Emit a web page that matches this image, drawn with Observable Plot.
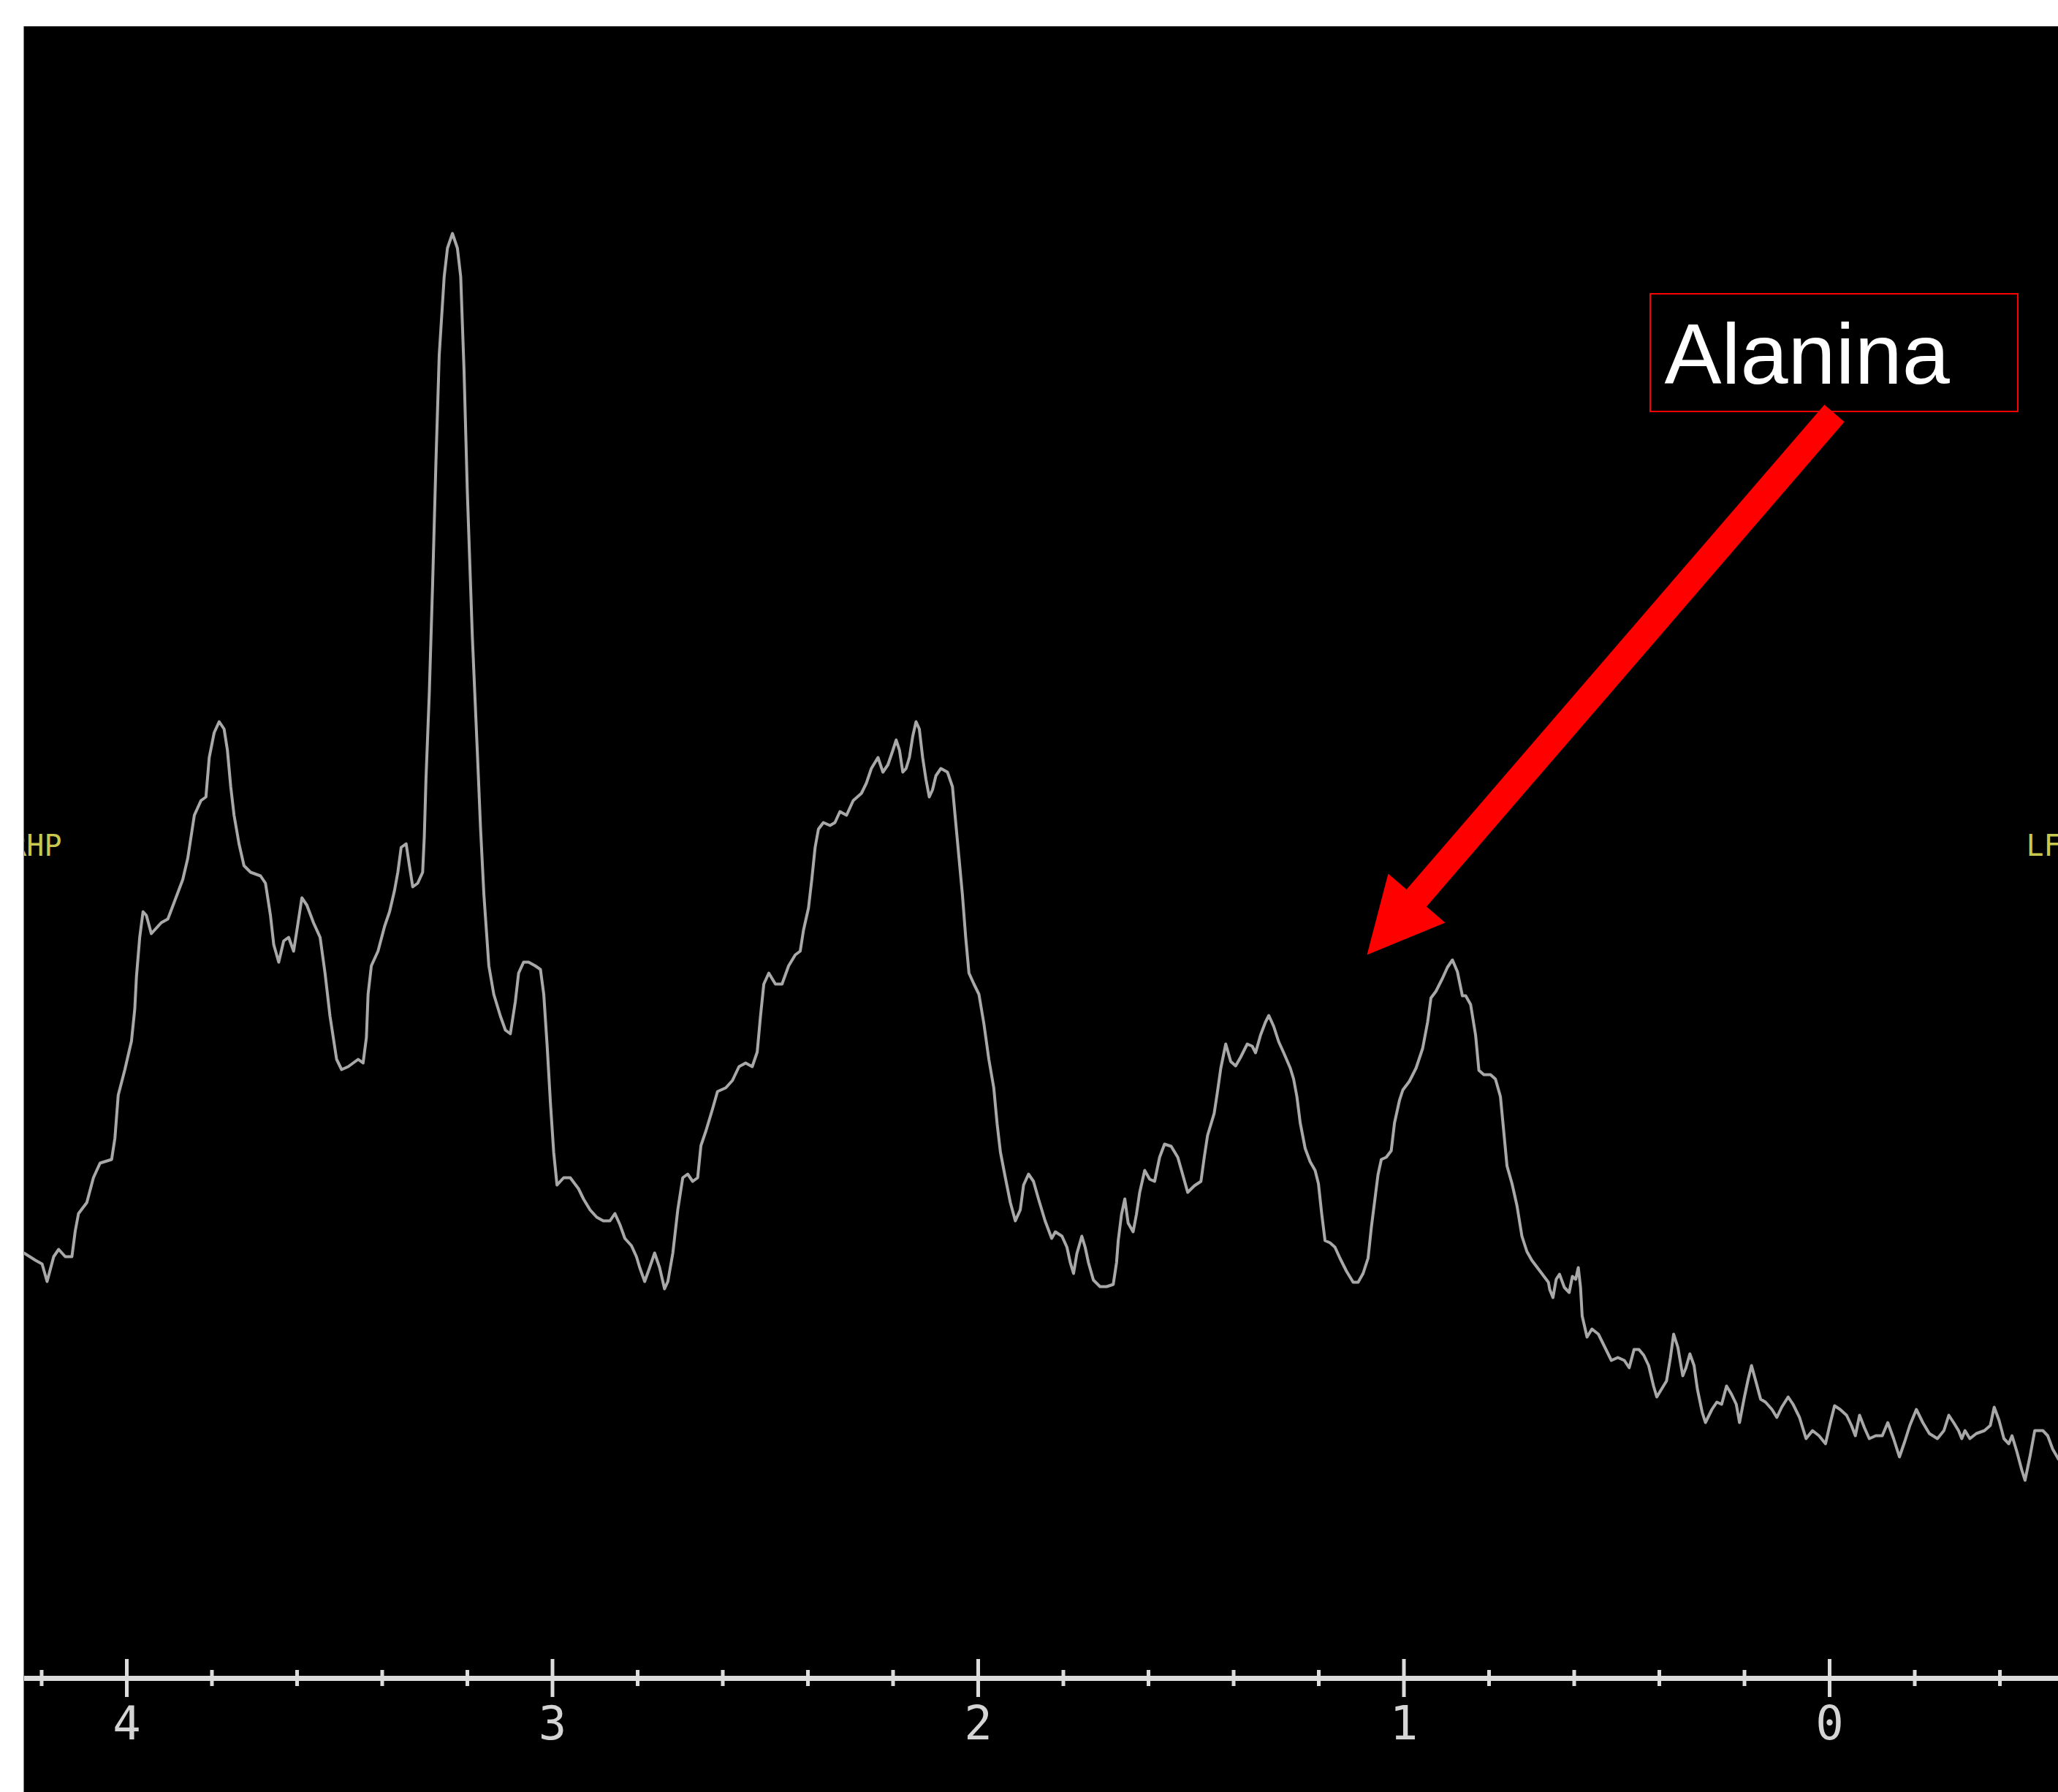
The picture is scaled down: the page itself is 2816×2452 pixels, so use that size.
<!DOCTYPE html>
<html>
<head>
<meta charset="utf-8">
<script src="https://cdn.jsdelivr.net/npm/d3@7"></script>
<script src="https://cdn.jsdelivr.net/npm/@observablehq/plot@0.6"></script>
<style>
  html, body { margin: 0; padding: 0; background: #ffffff; }
  #chart { position: absolute; left: 32px; top: 36px; border-left: 1px solid #808080; line-height: 0; }
  #chart svg { display: block; }
</style>
</head>
<body>
<div id="chart"></div>
<script>
// Chemical shift (ppm) and signal intensity (a.u.)
const spectrumRegion1 = [
  [4.2416,582],[4.2144,572],[4.1989,567],[4.1872,543],[4.1717,577],[4.1600,587],[4.1445,577],[4.1289,577],
  [4.1211,612],[4.1134,636],[4.0939,651],[4.0784,685],[4.0628,705],[4.0356,710],[4.0279,739],[4.0201,798],
  [4.0045,833],[3.9890,872],[3.9812,916],[3.9773,960],[3.9696,1014],[3.9618,1049],[3.9540,1044],[3.9424,1019],
  [3.9190,1034],[3.9035,1039],[3.8879,1063],[3.8685,1093],[3.8568,1122],[3.8413,1181],[3.8258,1201],[3.8141,1206],
  [3.8063,1260],[3.7947,1294],[3.7830,1309],[3.7714,1299],[3.7636,1270],[3.7558,1220],[3.7480,1181],[3.7364,1142],
  [3.7247,1112],[3.7092,1103],[3.6858,1098],[3.6742,1088],[3.6625,1044],[3.6548,1004],[3.6431,980],[3.6314,1009],
  [3.6198,1014],[3.6081,995],[3.6003,1024],[3.5887,1068],[3.5770,1058],[3.5615,1034],[3.5459,1014],[3.5343,965],
  [3.5226,906],[3.5071,847],[3.4954,833],[3.4799,837],[3.4682,842],[3.4565,847],[3.4449,842],[3.4371,877],
  [3.4332,936],[3.4255,975],[3.4099,995],[3.3944,1029],[3.3827,1049],[3.3711,1078],[3.3633,1103],[3.3555,1137],
  [3.3438,1142],[3.3361,1112],[3.3283,1083],[3.3166,1088],[3.3050,1103],[3.3011,1152],[3.2972,1230],[3.2894,1348],
  [3.2817,1495],[3.2739,1662],[3.2661,1810],[3.2544,1918],[3.2467,1957],[3.2350,1977],[3.2234,1957],[3.2156,1918],
  [3.2078,1790],[3.2000,1623],[3.1884,1427],[3.1767,1270],[3.1689,1162],[3.1612,1073],[3.1495,975],[3.1379,936],
  [3.1223,906],[3.1106,887],[3.0990,882],[3.0873,926],[3.0796,965],[3.0679,980],[3.0562,980],[3.0407,975]
];
const spectrumRegion2 = [
  [3.0283,970],[3.0205,936],[3.0127,867],[3.0049,788],[2.9972,720],[2.9894,675],[2.9738,685],[2.9583,685],
  [2.9389,670],[2.9272,656],[2.9117,641],[2.8961,631],[2.8806,626],[2.8650,626],[2.8534,636],[2.8417,621],
  [2.8300,602],[2.8145,592],[2.8028,577],[2.7951,562],[2.7834,543],[2.7718,562],[2.7601,582],[2.7484,562],
  [2.7368,533],[2.7290,543],[2.7173,582],[2.7057,641],[2.6940,685],[2.6824,690],[2.6707,680],[2.6590,685],
  [2.6513,729],[2.6396,749],[2.6241,779],[2.6124,803],[2.5930,808],[2.5774,818],[2.5619,837],[2.5463,842],
  [2.5308,837],[2.5191,857],[2.5114,906],[2.5036,950],[2.4919,965],[2.4764,950],[2.4608,950],[2.4453,975],
  [2.4297,990],[2.4181,995],[2.4103,1024],[2.3987,1054],[2.3909,1093],[2.3831,1137],[2.3753,1162],[2.3637,1171],
  [2.3481,1167],[2.3365,1171],[2.3248,1186],[2.3093,1181],[2.2937,1201],[2.2743,1211],[2.2626,1225],[2.2510,1245],
  [2.2354,1260],[2.2238,1240],[2.2121,1250],[2.2004,1270],[2.1927,1284],[2.1849,1270],[2.1771,1240],[2.1694,1245],
  [2.1616,1260],[2.1538,1289],[2.1460,1309],[2.1383,1299],[2.1305,1260],[2.1227,1230],[2.1150,1206],[2.1072,1216],
  [2.0994,1235],[2.0877,1245],[2.0722,1240],[2.0605,1220],[2.0528,1171],[2.0450,1122],[2.0372,1073],[2.0294,1014],
  [2.0217,965],[2.0100,950],[1.9983,936],[1.9867,896],[1.9750,847],[1.9634,808],[1.9556,759],[1.9478,720],
  [1.9362,685],[1.9245,651],[1.9128,626],[1.9012,641],[1.8934,675],[1.8818,690],[1.8701,680],[1.8584,656],
  [1.8429,626],[1.8274,602]
];
const spectrumRegion3 = [
  [1.8188,611],[1.8032,605],[1.7916,590],[1.7838,569],[1.7760,554],[1.7683,581],[1.7566,605],[1.7488,590],
  [1.7411,569],[1.7294,545],[1.7138,536],[1.6983,536],[1.6828,539],[1.6750,569],[1.6711,599],[1.6633,635],
  [1.6556,656],[1.6478,623],[1.6361,611],[1.6283,635],[1.6206,665],[1.6089,695],[1.5972,683],[1.5856,680],
  [1.5739,713],[1.5623,731],[1.5467,728],[1.5312,713],[1.5195,689],[1.5079,665],[1.4923,674],[1.4768,680],
  [1.4690,713],[1.4612,743],[1.4457,773],[1.4379,803],[1.4301,835],[1.4185,868],[1.4068,844],[1.3952,838],
  [1.3835,850],[1.3680,868],[1.3563,865],[1.3485,856],[1.3369,880],[1.3252,898],[1.3174,907],[1.3058,892],
  [1.2941,871],[1.2824,856],[1.2669,835],[1.2591,820],[1.2514,796],[1.2436,760],[1.2319,725],[1.2203,707],
  [1.2086,695],[1.2008,677],[1.1930,635],[1.1853,599],[1.1736,596],[1.1620,590],[1.1503,575],[1.1348,557],
  [1.1192,542],[1.1076,542],[1.0959,554],[1.0842,575],[1.0765,617],[1.0687,653],[1.0609,689],[1.0531,710],
  [1.0415,713],[1.0298,722],[1.0221,760],[1.0104,791],[1.0026,805],[0.9871,817],[0.9715,835],[0.9560,862],
  [0.9443,898],[0.9365,931],[0.9249,940],[0.9093,958],[0.8977,973],[0.8860,983],[0.8744,967],[0.8627,934],
  [0.8549,934],[0.8433,922],[0.8316,880],[0.8239,832],[0.8122,826],[0.7966,826],[0.7850,820],[0.7733,796],
  [0.7656,749],[0.7578,701],[0.7461,677],[0.7345,647],[0.7228,605],[0.7111,584],[0.6995,572],[0.6839,560],
  [0.6723,551],[0.6606,542]
];
const spectrumRegion4 = [
  [0.6575,532],[0.6499,521],[0.6423,546],[0.6346,553],[0.6232,535],[0.6118,528],[0.6042,550],[0.5965,546],
  [0.5904,562],[0.5851,535],[0.5813,496],[0.5699,467],[0.5584,478],[0.5432,471],[0.5279,453],[0.5127,435],
  [0.4975,439],[0.4822,435],[0.4708,425],[0.4594,450],[0.4479,450],[0.4365,442],[0.4251,428],[0.4136,400],
  [0.4060,385],[0.3946,396],[0.3831,407],[0.3740,439],[0.3664,471],[0.3565,453],[0.3450,414],[0.3374,425],
  [0.3283,444],[0.3184,428],[0.3107,396],[0.2993,364],[0.2917,350],[0.2765,368],[0.2650,378],[0.2536,375],
  [0.2422,400],[0.2307,389],[0.2193,375],[0.2117,350],[0.2002,385],[0.1911,410],[0.1835,428],[0.1736,407],
  [0.1621,382],[0.1507,378],[0.1355,368],[0.1240,357],[0.1126,371],[0.0974,385],[0.0859,375],[0.0707,357],
  [0.0554,328],[0.0402,339],[0.0250,332],[0.0097,321],[-0.0017,350],[-0.0116,373],[-0.0246,368],[-0.0398,360],
  [-0.0513,346],[-0.0604,332],[-0.0703,360],[-0.0817,343],[-0.0932,328],[-0.1084,332],[-0.1237,332],[-0.1366,350],
  [-0.1503,328],[-0.1640,303],[-0.1770,325],[-0.1884,346],[-0.2037,368],[-0.2189,350],[-0.2342,335],[-0.2532,328],
  [-0.2685,339],[-0.2799,360],[-0.2913,350],[-0.3028,339],[-0.3104,328],[-0.3180,339],[-0.3294,328],[-0.3447,335],
  [-0.3637,339],[-0.3774,346],[-0.3866,371],[-0.3980,353],[-0.4094,328],[-0.4209,321],[-0.4285,332],[-0.4399,310],
  [-0.4514,285],[-0.4590,271],[-0.4704,303],[-0.4818,339],[-0.5009,339],[-0.5123,332],[-0.5237,314],[-0.5375,300]
];
const spectrum = [...spectrumRegion1, ...spectrumRegion2, ...spectrumRegion3, ...spectrumRegion4];

// Axis ticks (ppm)
const majorTicks = [4, 3, 2, 1, 0];
const minorTicks = [4.2, 3.8, 3.6, 3.4, 3.2, 2.8, 2.6, 2.4, 2.2, 1.8, 1.6, 1.4, 1.2, 0.8, 0.6, 0.4, 0.2, -0.2, -0.4];

// Annotation (data coordinates: ppm, intensity)
const annotationLabel = "Alanina";
const annotationText = [{ppm: 0.3880, intensity: 1809}];
const annotationBox = [{ppmFrom: 0.4206, ppmTo: -0.4429, intensityFrom: 1733, intensityTo: 1894}];
const arrowShaft = [[-0.0112, 1731], [0.9803, 1061]];
const arrowHead = [[1.0867, 990], [1.0369, 1101], [0.9030, 1034]];

// Orientation labels at the panel edges (partly cut off by the panel edges)
const leftOrientation = [{label: "RHP", ppm: 4.1528, intensity: 1138}];
const rightOrientation = [{label: "LFA", ppm: -0.4618, intensity: 1138}];

const axisColor = "#dcdcdc";
const orientationStyle = {x: "ppm", y: "intensity", text: "label", fill: "#c8c850",
  fontSize: 40, fontFamily: "DejaVu Sans Mono", lineAnchor: "middle"};

const plot = Plot.plot({
  width: 2783,
  height: 2416,
  marginTop: 0,
  marginRight: 0,
  marginBottom: 156,
  marginLeft: 0,
  style: {background: "#000000", overflow: "hidden"},
  x: {domain: [4.2403, -0.5373], axis: null},
  y: {domain: [0, 2260], axis: null},
  marks: [
    Plot.line(spectrum, {x: d => d[0], y: d => d[1], stroke: "#a8a8a8", strokeWidth: 4}),
    Plot.ruleY([0], {stroke: axisColor, strokeWidth: 7}),
    Plot.ruleX(minorTicks, {x: d => d, y1: -11, y2: 11, stroke: axisColor, strokeWidth: 5}),
    Plot.ruleX(majorTicks, {x: d => d, y1: -26, y2: 26, stroke: axisColor, strokeWidth: 5}),
    Plot.text(majorTicks, {x: d => d, y: -63, text: d => String(d), fill: "#d4d4d4",
      fontSize: 64, fontFamily: "DejaVu Sans Mono", lineAnchor: "middle"}),
    Plot.text(leftOrientation, {...orientationStyle, textAnchor: "end"}),
    Plot.text(rightOrientation, {...orientationStyle, textAnchor: "start"}),
    Plot.rect(annotationBox, {x1: "ppmFrom", x2: "ppmTo", y1: "intensityFrom", y2: "intensityTo",
      fill: "none", stroke: "#ff0000", strokeWidth: 2}),
    Plot.text(annotationText, {x: "ppm", y: "intensity", text: () => annotationLabel, fill: "#ffffff",
      fontSize: 117, fontFamily: "Liberation Sans, Arial, sans-serif", textAnchor: "start", lineAnchor: "middle"}),
    Plot.line(arrowShaft, {x: d => d[0], y: d => d[1], stroke: "#ff0000", strokeWidth: 36, strokeLinecap: "butt"}),
    Plot.line(arrowHead, {x: d => d[0], y: d => d[1], fill: "#ff0000", stroke: "none"})
  ]
});

document.getElementById("chart").appendChild(plot);
</script>
</body>
</html>
